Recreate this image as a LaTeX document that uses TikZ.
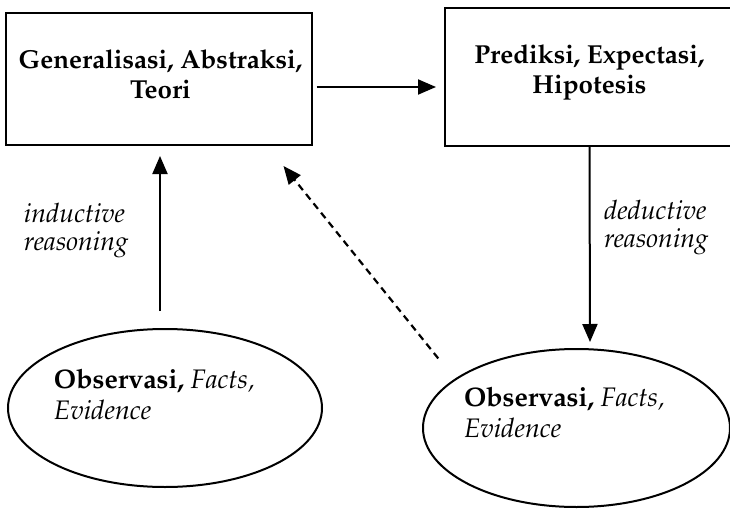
\documentclass[tikz,border=0pt]{standalone}
\usepackage[T1]{fontenc}
\usepackage{mathpazo}
\usetikzlibrary{arrows.meta,shapes.geometric}

\begin{document}
\begin{tikzpicture}[x=0.5pt,y=-0.5pt,line width=1pt,
    >={Triangle[length=9pt,width=7.5pt]}]
    \tikzstyle{box}=[rectangle,draw,inner sep=0pt]
    \tikzstyle{obs}=[ellipse,draw,inner sep=0pt]
    \tikzstyle{boxtext}=[align=center,inner sep=0pt,anchor=base,
        font=\fontsize{13}{15}\selectfont\bfseries]
    \tikzstyle{obstext}=[align=left,inner sep=0pt,anchor=base west,
        font=\fontsize{13.4}{15.5}\selectfont]
    \tikzstyle{reason}=[align=left,inner sep=0pt,anchor=base west,
        font=\fontsize{13.3}{13.8}\selectfont\itshape]
    \tikzstyle{link}=[->]

    \useasboundingbox (0,0) rectangle (730,509);

    % the two boxes on top
    \node[box,minimum width=153pt,minimum height=66pt] (gen) at (158.5,79) {};
    \node[box,minimum width=144.5pt,minimum height=69pt] (pred) at (589.5,77) {};
    \node[boxtext] (genText) at (160.5,98) {Generalisasi, Abstraksi,\\Teori};
    \node[boxtext] (predText) at (589.5,93) {Prediksi, Expectasi,\\Hipotesis};

    % the two ellipses below
    \node[obs,minimum width=157pt,minimum height=79pt] (obsL) at (165,408) {};
    \node[obs,minimum width=153.5pt,minimum height=79pt] (obsR) at (576.5,428) {};
    \node[obstext] (obsLText) at (53,419)
        {\textbf{Observasi,} \textit{Facts,}\\\textit{Evidence}};
    \node[obstext] (obsRText) at (463,437)
        {\textbf{Observasi,} \textit{Facts,}\\\textit{Evidence}};

    % labels of the reasoning arrows
    \node[reason] (ind) at (23,250) {inductive\\reasoning};
    \node[reason] (ded) at (603,247) {deductive\\reasoning};

    % connect the boxes and ellipses
    \draw[link] ([xshift=2pt,yshift=-4pt]gen.east)
        -- ([xshift=-4pt,yshift=-5pt]pred.west);
    \draw[link] ([xshift=-2.5pt,yshift=8.5pt]obsL.north)
        -- ([xshift=0.75pt,yshift=-5pt]gen.south);
    \draw[link] (pred.south)
        -- ([xshift=6.75pt,yshift=3pt]obsR.north);
    \draw[link,line width=1.1pt,dash pattern=on 3.5pt off 2.5pt]
        ([xshift=-14.5pt,yshift=6.5pt]obsR.north west)
        -- ([xshift=-14.5pt,yshift=-10pt]gen.south east);

\end{tikzpicture}
\end{document}
